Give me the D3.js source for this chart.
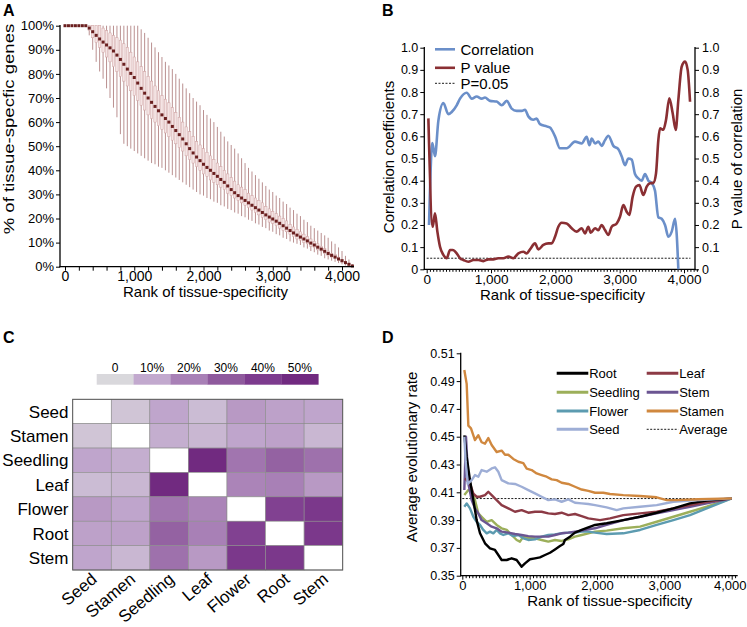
<!DOCTYPE html>
<html><head><meta charset="utf-8">
<script src="https://cdn.jsdelivr.net/npm/d3@7"></script>
<style>
body{margin:0;background:#fff}
svg{display:block;font-family:"Liberation Sans",Arial,sans-serif}
</style>
</head><body>
<svg id="fig" width="747" height="627"></svg>
<script>
// ---------------- Panel A data (box plots of % tissue-specific genes) ----------------
const rankA = [0,50,100,150,200,250,300,350,400,450,
 500,550,600,650,700,750,800,850,900,950,
 1000,1050,1100,1150,1200,1250,1300,1350,1400,1450,
 1500,1550,1600,1650,1700,1750,1800,1850,1900,1950,
 2000,2050,2100,2150,2200,2250,2300,2350,2400,2450,
 2500,2550,2600,2650,2700,2750,2800,2850,2900,2950,
 3000,3050,3100,3150,3200,3250,3300,3350,3400,3450,
 3500,3550,3600,3650,3700,3750,3800,3850,3900,3950,
 4000,4050,4100,4150];
const medianA = [100,100,100,100,100,100,100,99,97.5,96,
 94.5,93.2,92,90.8,89.5,87.8,86,84,82,80.2,
 78.5,76.2,74,72,70,68.2,66.5,64.7,63,61.5,
 60,58.2,56.5,54.8,53,51,49,47.2,45.5,44,
 42.5,41.2,40,38.7,37.5,36.2,35,33.5,32,30.7,
 29.5,28.5,27.5,26.5,25.5,24.5,23.5,22.5,21.5,20.6,
 19.8,18.9,18,17,16,15,14,13.1,12.3,11.5,
 10.7,9.8,9,8.1,7.3,6.4,5.5,4.7,4,3.2,
 2.5,1.7,1,0.3];
const q3A = [100,100,100,100,100,100,100,100,100,100,
 100,99,98,97,96,95,94,92.5,91,89,
 87,85,83,81,79,77,75,73,71,69.5,
 68,66,64,62,60,58,56,54,52,50.5,
 49,47.5,46,44.5,43,41.5,40,38.5,37,35.5,
 34,33,32,30.5,29.5,28.5,27.5,26.5,25,24,
 23,22,21,20,19,17.5,16.5,15.5,14.5,13.5,
 12.5,11.5,10.5,9.5,8.5,7.5,6.5,5.5,5,4,
 3,2,1.3,0.5];
const q1A = [100,100,100,100,100,100,100,98,95,93,
 91,89,87,85,83,81,79,77,75,73,
 71,69,67,65,63,61.5,60,58.5,57,55.5,
 54,52.5,51,49.5,48,46,44.5,43,41.5,40,
 38.5,37.5,36,35,34,33,32,30.5,29.5,28.5,
 27.5,26.5,25.5,24.5,23.5,22.5,21.5,20.5,19.5,18.5,
 18,17,16,15,14.5,13.5,12.5,11.5,11,10,
 9.5,8.5,8,7,6.5,5.5,4.5,4,3.3,2.5,
 1.8,1.2,0.6,0.1];
const highA = [100,100,100,100,100,100,100,100,100,100,
 100,100,100,100,100,100,100,100,100,100,
 100,100,98.5,97,95,93,91,89,87,85,
 83.5,82,80,78,76,74,72,70,68.5,67,
 65,63,61.5,60,58,56,54,52,50.5,49,
 47,45,43,41,39.5,38,36.5,35,33.5,32,
 31,29.5,28.5,27,26,24.5,23.5,22,21,19.5,
 18.5,17,16,15,14,13,12,10.5,9.5,8,
 6.5,4.5,3,1];
const lowA = [100,100,100,100,100,100,100,96,90,85,
 81,78,74,70,66,62,55,51,50,49,
 48,47,46,45,44,43,42.5,41.5,41,40,
 39,38,37,36,35,34,33,32,31,30,
 29.5,28.5,28,27,26.5,25.5,25,24,23.5,22.5,
 22,21,20.5,19.5,19,18,17.5,16.5,16,15,
 14.5,13.5,13,12,11.5,10.5,10,9.5,9,8,
 7.5,6.5,6,5,4.5,3.5,3,2.5,2,1.5,
 1,0.5,0.3,0];
const yTicksA = [0,10,20,30,40,50,60,70,80,90,100];
const xLabelTicks = [0,1000,2000,3000,4000];

// ---------------- Panel B data ----------------
const corrRank = [36,88,129,181,259,337,389,466,518,622,700,777,855,906,984,1088,1166,1244,1321,1399,
 1477,1528,1580,1658,1710,1761,1865,1917,1995,2072,2176,2305,2409,2487,2529,2565,2617,2669,2720,2772,
 2824,2902,2980,3031,3083,3135,3187,3238,3290,3342,3394,3446,3498,3549,3601,3653,3705,3757,3809,3861,3887,3912];
const corrVal = [0.20,0.57,0.51,0.67,0.75,0.70,0.71,0.74,0.77,0.797,0.77,0.78,0.77,0.775,0.76,0.757,0.74,0.76,0.725,0.715,
 0.715,0.72,0.69,0.675,0.68,0.655,0.645,0.64,0.60,0.546,0.546,0.576,0.568,0.598,0.56,0.59,0.568,0.576,0.557,0.583,
 0.603,0.557,0.542,0.51,0.47,0.50,0.495,0.43,0.41,0.40,0.43,0.40,0.39,0.355,0.235,0.228,0.20,0.147,0.17,0.228,0.155,0.0];
const pRank = [26,93,129,166,207,259,311,363,404,466,518,570,648,726,803,881,959,1036,1114,1192,
 1270,1347,1425,1503,1555,1606,1684,1736,1814,1891,1943,1995,2046,2098,2176,2254,2331,2409,2461,2513,
 2549,2617,2669,2720,2772,2824,2876,2954,3005,3057,3109,3150,3202,3254,3306,3368,3420,3472,3524,3565,
 3601,3627,3679,3720,3772,3824,3871,3912,3964,4016,4057,4094];
const pVal = [0.681,0.192,0.253,0.170,0.102,0.065,0.050,0.087,0.087,0.072,0.050,0.042,0.034,0.042,0.042,0.037,0.045,0.045,0.05,0.05,
 0.057,0.05,0.072,0.079,0.072,0.09,0.117,0.09,0.11,0.117,0.117,0.147,0.192,0.21,0.207,0.185,0.17,0.185,0.162,0.192,
 0.165,0.185,0.177,0.2,0.177,0.155,0.192,0.207,0.237,0.29,0.26,0.245,0.328,0.373,0.38,0.335,0.373,0.388,0.39,0.433,
 0.583,0.636,0.63,0.674,0.772,0.704,0.629,0.764,0.914,0.937,0.9,0.756];
const pThreshold = 0.05;
const yTicksB = [0,0.1,0.2,0.3,0.4,0.5,0.6,0.7,0.8,0.9,1.0];

// ---------------- Panel C data (overlap heatmap, %) ----------------
const tissues = ["Seed","Stamen","Seedling","Leaf","Flower","Root","Stem"];
const overlap = [
 [null, 4, 11, 6, 14, 12, 11],
 [4, null, 9, 7, 11, 12, 7],
 [11, 9, null, 50, 23, 28, 24],
 [6, 7, 50, null, 19, 20, 14],
 [14, 11, 23, 19, null, 38, 42],
 [12, 12, 28, 20, 38, null, 42],
 [11, 7, 24, 14, 42, 42, null]
];
const legendLabelsC = ["0","10%","20%","30%","40%","50%"];
const legendStopsC = [0,10,20,30,40,50];

// ---------------- Panel D data (average evolutionary rate) ----------------
const rootRank = [30,65,114,164,213,263,337,411,485,535,584,659,733,807,881,931,1005,1079,1153,1228,1302,1376,1450,1500,1524,1599,1673,1772,1871,1971,2143,2391,2639,2886,3134,3381,3629,4000];
const rootVal = [0.451,0.4356,0.4188,0.4044,0.39,0.3805,0.3733,0.3697,0.3685,0.3649,0.3613,0.3613,0.3625,0.3613,0.3565,0.3589,0.3618,0.3625,0.3632,0.3649,0.3665,0.3689,0.3713,0.3728,0.3757,0.3781,0.381,0.3829,0.3848,0.3865,0.3877,0.39,0.3924,0.3953,0.3984,0.402,0.404,0.4056];
const leafRank = [40,114,164,213,263,337,386,436,510,584,683,782,881,980,1079,1178,1277,1376,1475,1574,1673,1772,1871,1971,2045,2193,2391,2639,2886,3134,3381,3629,4000];
const leafVal = [0.42,0.4164,0.409,0.4068,0.4068,0.408,0.4104,0.408,0.4044,0.4008,0.3984,0.396,0.3972,0.3953,0.396,0.396,0.3948,0.3944,0.3953,0.3936,0.3944,0.3929,0.3912,0.3905,0.39,0.3912,0.3936,0.3948,0.396,0.3984,0.4008,0.4032,0.4056];
const seedlingRank = [30,90,139,188,238,287,362,436,510,584,659,733,807,856,906,980,1079,1178,1277,1376,1475,1574,1673,1772,1871,1971,2143,2391,2639,2886,3134,3381,3629,4000];
const seedlingVal = [0.408,0.4116,0.4116,0.4044,0.3948,0.3924,0.3888,0.39,0.3865,0.3841,0.3829,0.3793,0.3757,0.3745,0.3781,0.3769,0.3769,0.3757,0.3745,0.3757,0.375,0.3761,0.3781,0.3793,0.3805,0.3817,0.3824,0.3841,0.3853,0.3888,0.3924,0.396,0.3996,0.4056];
const stemRank = [30,55,90,139,188,238,287,362,436,510,584,683,782,881,980,1079,1178,1277,1376,1475,1574,1673,1772,1871,1971,2143,2391,2639,2886,3134,3381,3629,4000];
const stemVal = [0.4116,0.45,0.4164,0.4044,0.3984,0.3948,0.39,0.3877,0.3853,0.3841,0.3817,0.381,0.38,0.3793,0.3785,0.3781,0.3781,0.3781,0.3793,0.3805,0.381,0.3817,0.3824,0.3834,0.3841,0.3865,0.39,0.3924,0.3948,0.3972,0.3996,0.402,0.4056];
const flowerRank = [30,65,114,164,213,263,312,362,411,461,510,560,609,683,757,832,906,980,1079,1178,1277,1376,1475,1574,1673,1772,1871,1971,2143,2391,2639,2886,3134,3381,3629,4000];
const flowerVal = [0.3996,0.402,0.3984,0.3924,0.3888,0.3865,0.3829,0.3805,0.3817,0.3805,0.3829,0.3805,0.3793,0.3805,0.3785,0.3793,0.3769,0.3757,0.3761,0.3781,0.3793,0.3797,0.3805,0.381,0.381,0.3817,0.3817,0.381,0.38,0.3805,0.3829,0.3865,0.39,0.3936,0.3984,0.4056];
const stamenRank = [30,65,90,129,188,238,287,337,386,436,510,584,634,683,757,832,906,956,1030,1104,1178,1252,1327,1401,1475,1574,1673,1772,1871,1971,2094,2193,2391,2639,2886,3035,3183,3500,4000];
const stamenVal = [0.498,0.488,0.458,0.456,0.4476,0.451,0.446,0.445,0.449,0.444,0.439,0.440,0.437,0.437,0.434,0.432,0.431,0.427,0.426,0.4236,0.4224,0.4212,0.4193,0.4188,0.4169,0.416,0.414,0.412,0.411,0.4097,0.4097,0.4088,0.408,0.4073,0.4064,0.4044,0.4044,0.405,0.4056];
const seedRank = [30,50,80,139,188,238,287,362,436,485,535,584,683,782,881,980,1079,1178,1277,1376,1475,1574,1673,1772,1871,1971,2143,2292,2391,2639,2886,3134,3381,4000];
const seedVal = [0.450,0.432,0.416,0.4188,0.4224,0.4212,0.426,0.4248,0.4272,0.428,0.4248,0.4188,0.4164,0.416,0.414,0.4116,0.4092,0.4068,0.4044,0.4049,0.4032,0.4049,0.4025,0.402,0.4016,0.4008,0.3992,0.3972,0.3984,0.3996,0.4008,0.4032,0.404,0.4056];
const averageRate = 0.4055;
const yTicksD = [0.35,0.37,0.39,0.41,0.43,0.45,0.47,0.49,0.51];

const seriesD = [
 {name:"Root", rank:rootRank, val:rootVal, color:"#000000"},
 {name:"Leaf", rank:leafRank, val:leafVal, color:"#8c3a45"},
 {name:"Seedling", rank:seedlingRank, val:seedlingVal, color:"#9caf5a"},
 {name:"Stem", rank:stemRank, val:stemVal, color:"#6b5592"},
 {name:"Flower", rank:flowerRank, val:flowerVal, color:"#5c9bb0"},
 {name:"Stamen", rank:stamenRank, val:stamenVal, color:"#d0883f"},
 {name:"Seed", rank:seedRank, val:seedVal, color:"#9eaed6"}
];

// =====================================================================
const svg = d3.select("#fig");
const FONT = '"Liberation Sans",Arial,sans-serif';

function panelLabel(t, x, y){
  svg.append("text").attr("x",x).attr("y",y).attr("font-size",16).attr("font-weight","bold").text(t);
}
function styleAxis(g, fs){
  g.selectAll("path.domain").remove();
  g.selectAll("line").attr("stroke","#000").attr("stroke-width",1);
  g.selectAll("text").attr("font-size",fs).attr("font-family",FONT).attr("fill","#000");
}
function hline(x1,x2,y){ svg.append("line").attr("x1",x1).attr("x2",x2).attr("y1",y).attr("y2",y).attr("stroke","#000").attr("stroke-width",1.3); }
function vline(x,y1,y2){ svg.append("line").attr("x1",x).attr("x2",x).attr("y1",y1).attr("y2",y2).attr("stroke","#000").attr("stroke-width",1.3); }

// ---------------- Panel A ----------------
panelLabel("A", 3, 16);
const xA = d3.scaleLinear().domain([0,4000]).range([65,342]);
const yA = d3.scaleLinear().domain([0,100]).range([266.7,25.7]);
const gA = svg.append("g");
const dataA = rankA.map((r,i)=>({r, med:medianA[i], q1:q1A[i], q3:q3A[i], lo:lowA[i], hi:highA[i]}));
gA.selectAll("line.wh").data(dataA).join("line")
  .attr("x1",d=>xA(d.r)).attr("x2",d=>xA(d.r))
  .attr("y1",d=>yA(d.hi)).attr("y2",d=>yA(d.lo))
  .attr("stroke","#a87474").attr("stroke-width",0.8);
gA.selectAll("rect.box").data(dataA).join("rect")
  .attr("x",d=>xA(d.r)-1.2).attr("width",2.4)
  .attr("y",d=>yA(d.q3)).attr("height",d=>Math.max(0,yA(d.q1)-yA(d.q3)))
  .attr("fill","#f4e4e4").attr("stroke","#cfa2a2").attr("stroke-width",0.5);
gA.selectAll("rect.med").data(dataA).join("rect")
  .attr("x",d=>xA(d.r)-1.5).attr("y",d=>yA(d.med)-1.5)
  .attr("width",3).attr("height",3).attr("fill","#6a1f1f");
const axAy = svg.append("g").attr("transform","translate(60,0)")
  .call(d3.axisLeft(yA).tickValues(yTicksA).tickFormat(d=>d+"%").tickSize(4).tickPadding(2));
styleAxis(axAy, 13);
const axAx = svg.append("g").attr("transform","translate(0,266.7)")
  .call(d3.axisBottom(xA).tickValues(d3.range(0,4001,200)).tickFormat(d=>xLabelTicks.includes(d)?d3.format(",")(d):"").tickSize(4).tickPadding(0));
styleAxis(axAx, 14);
vline(60, 25, 267.3); hline(59.4, 354, 266.7);
svg.append("text").attr("x",205.5).attr("y",297).attr("text-anchor","middle").attr("font-size",15).text("Rank of tissue-specificity");
svg.append("text").attr("transform","translate(14,129) rotate(-90) scale(1.24,1)").attr("text-anchor","middle").attr("font-size",15).text("% of tissue-specfic genes");

// ---------------- Panel B ----------------
panelLabel("B", 382, 16);
const xB = d3.scaleLinear().domain([0,4000]).range([426.7,684]);
const yB = d3.scaleLinear().domain([0,1]).range([269.3,47.7]);
const fmtB = d=> d===0 ? "0" : d3.format(".1f")(d);
const axBl = svg.append("g").attr("transform","translate(424.3,0)")
  .call(d3.axisLeft(yB).tickValues(yTicksB).tickFormat(fmtB).tickSize(4).tickPadding(2));
styleAxis(axBl, 12.5);
const axBr = svg.append("g").attr("transform","translate(695,0)")
  .call(d3.axisRight(yB).tickValues(yTicksB).tickFormat(fmtB).tickSize(4).tickPadding(3));
styleAxis(axBr, 12.5);
const axBx = svg.append("g").attr("transform","translate(0,269.3)")
  .call(d3.axisBottom(xB).tickValues(d3.range(0,4201,50)).tickFormat(d=>xLabelTicks.includes(d)?d3.format(",")(d):"").tickSize(3).tickPadding(2));
styleAxis(axBx, 13.5);
axBx.selectAll(".tick line").attr("y2",d=>d%1000===0?4:2.5);
vline(424.3, 47, 269.9); vline(695, 47, 269.9); hline(423.7, 695.6, 269.3);
svg.append("line").attr("x1",xB(0)).attr("x2",xB(4100)).attr("y1",yB(pThreshold)).attr("y2",yB(pThreshold))
  .attr("stroke","#000").attr("stroke-width",0.9).attr("stroke-dasharray","2,1.5");
const lineB = d3.line().x(d=>xB(d[0])).y(d=>yB(d[1])).curve(d3.curveMonotoneX);
svg.append("path").attr("d",lineB(corrRank.map((r,i)=>[r,corrVal[i]]))).attr("fill","none").attr("stroke","#6b8fc9").attr("stroke-width",2.6);
svg.append("path").attr("d",lineB(pRank.map((r,i)=>[r,pVal[i]]))).attr("fill","none").attr("stroke","#8a2f33").attr("stroke-width",2.6);
// legend B
[["Correlation","#6b8fc9",49.3,false],["P value","#8a2f33",67.8,false],["P=0.05","#000",83.3,true]].forEach(([t,c,y,dash])=>{
  const l = svg.append("line").attr("x1",435).attr("x2",455).attr("y1",y).attr("y2",y).attr("stroke",c).attr("stroke-width",dash?0.9:2.6);
  if(dash) l.attr("stroke-dasharray","2,1.5");
  svg.append("text").attr("x",460.5).attr("y",y).attr("dy","0.36em").attr("font-size",15).text(t);
});
svg.append("text").attr("x",562.5).attr("y",299.5).attr("text-anchor","middle").attr("font-size",15).text("Rank of tissue-specificity");
svg.append("text").attr("transform","translate(394,157) rotate(-90)").attr("text-anchor","middle").attr("font-size",15).text("Correlation coefficients");
svg.append("text").attr("transform","translate(742,159) rotate(-90)").attr("text-anchor","middle").attr("font-size",15).text("P value of correlation");

// ---------------- Panel C ----------------
panelLabel("C", 3, 343);
const colorC = d3.scaleLinear().domain(legendStopsC).range(["#d9d8dc","#c2a9ce","#a880b6","#8f5a9d","#7d3b8e","#712a80"]).clamp(true);
const xC = d3.scaleBand().domain(tissues).range([72.7,342.7]);
const yC = d3.scaleBand().domain(tissues).range([399.3,570]);
const cells = [];
overlap.forEach((row,i)=>row.forEach((v,j)=>cells.push({r:tissues[i], c:tissues[j], v})));
svg.append("g").selectAll("rect").data(cells).join("rect")
  .attr("x",d=>xC(d.c)).attr("y",d=>yC(d.r)).attr("width",xC.bandwidth()).attr("height",yC.bandwidth())
  .attr("fill",d=>d.v===null?"#ffffff":colorC(d.v)).attr("stroke","#8c8c8c").attr("stroke-width",0.6);
svg.append("rect").attr("x",72.7).attr("y",399.3).attr("width",270).attr("height",170.7).attr("fill","none").attr("stroke","#5a5a5a").attr("stroke-width",1);
svg.append("g").selectAll("text").data(tissues).join("text")
  .attr("x",68.5).attr("y",d=>yC(d)+yC.bandwidth()/2).attr("dy","0.36em").attr("text-anchor","end").attr("font-size",17).text(d=>d);
svg.append("g").selectAll("text").data(tissues).join("text")
  .attr("transform",d=>`translate(${xC(d)+xC.bandwidth()/2+6},581) rotate(-40)`).attr("text-anchor","end").attr("font-size",17).text(d=>d);
// legend C
const xLeg = d3.scaleBand().domain(legendLabelsC).range([96.7,318.3]);
svg.append("g").selectAll("rect").data(legendStopsC).join("rect")
  .attr("x",(d,i)=>xLeg(legendLabelsC[i])).attr("y",374).attr("width",xLeg.bandwidth()+0.3).attr("height",10.7)
  .attr("fill",d=>colorC(d));
svg.append("g").selectAll("text").data(legendLabelsC).join("text")
  .attr("x",d=>xLeg(d)+xLeg.bandwidth()/2).attr("y",371.5).attr("text-anchor","middle").attr("font-size",12).text(d=>d);

// ---------------- Panel D ----------------
panelLabel("D", 382, 343);
const xD = d3.scaleLinear().domain([0,4000]).range([462.3,731.7]);
const yD = d3.scaleLinear().domain([0.35,0.51]).range([575.7,353.3]);
const axDy = svg.append("g").attr("transform","translate(460.7,0)")
  .call(d3.axisLeft(yD).tickValues(yTicksD).tickFormat(d3.format(".2f")).tickSize(4).tickPadding(2));
styleAxis(axDy, 12.5);
const axDx = svg.append("g").attr("transform","translate(0,575.7)")
  .call(d3.axisBottom(xD).tickValues(d3.range(0,4051,50)).tickFormat(d=>xLabelTicks.includes(d)?d3.format(",")(d):"").tickSize(3).tickPadding(2));
styleAxis(axDx, 13);
axDx.selectAll(".tick line").attr("y2",d=>d%1000===0?4:2.5);
axDx.selectAll(".tick text").filter(d=>d===4000).attr("text-anchor","end").attr("dx","1.1em");
vline(460.7, 352.7, 576.3); hline(460.1, 737.7, 575.7);
svg.append("line").attr("x1",xD(0)).attr("x2",xD(4000)).attr("y1",yD(averageRate)).attr("y2",yD(averageRate))
  .attr("stroke","#000").attr("stroke-width",0.9).attr("stroke-dasharray","2,1.5");
const lineD = d3.line().x(d=>xD(d[0])).y(d=>yD(d[1]));
["Seedling","Flower","Stem","Leaf","Root","Seed","Stamen"].forEach(n=>{
  const s = seriesD.find(q=>q.name===n);
  svg.append("path").attr("d",lineD(s.rank.map((r,i)=>[r,s.val[i]]))).attr("fill","none")
    .attr("stroke",s.color).attr("stroke-width",2.4).attr("stroke-linejoin","round");
});
// legend D
const legD = [["Root",0,0],["Leaf",1,0],["Seedling",0,1],["Stem",1,1],["Flower",0,2],["Stamen",1,2],["Seed",0,3]];
const rowY = [373.3,392.3,411,429.3];
legD.forEach(([n,c,r])=>{
  const s = seriesD.find(q=>q.name===n);
  const x0 = c===0?556.7:646.7;
  svg.append("line").attr("x1",x0).attr("x2",x0+31.6).attr("y1",rowY[r]).attr("y2",rowY[r]).attr("stroke",s.color).attr("stroke-width",3);
  svg.append("text").attr("x",x0+32.5).attr("y",rowY[r]).attr("dy","0.36em").attr("font-size",13).text(n);
});
svg.append("line").attr("x1",646.7).attr("x2",678.3).attr("y1",rowY[3]).attr("y2",rowY[3]).attr("stroke","#000").attr("stroke-width",0.9).attr("stroke-dasharray","2,1.5");
svg.append("text").attr("x",679.2).attr("y",rowY[3]).attr("dy","0.36em").attr("font-size",13).text("Average");
svg.append("text").attr("x",609.7).attr("y",605.5).attr("text-anchor","middle").attr("font-size",15).text("Rank of tissue-specificity");
svg.append("text").attr("transform","translate(417,457) rotate(-90)").attr("text-anchor","middle").attr("font-size",15).text("Average evolutionary rate");
</script>
</body></html>
